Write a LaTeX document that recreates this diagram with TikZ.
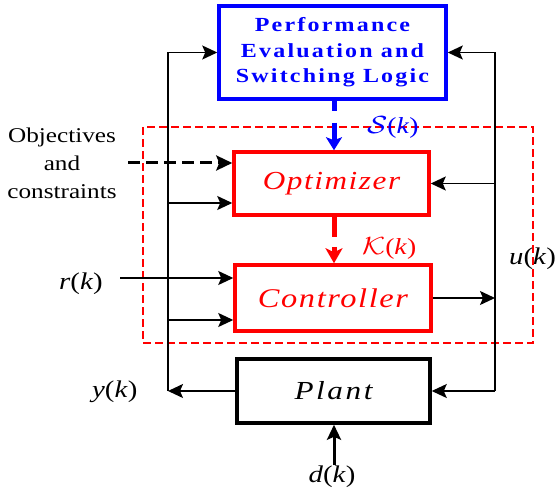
\documentclass[tikz,border=0pt]{standalone}
\usepackage{graphicx}
\usepackage{fontspec}
\setmainfont{Liberation Serif}[FakeStretch=1.2]
\newfontfamily\pesfont{Liberation Serif}[FakeStretch=1.2,LetterSpace=11]
\newfontfamily\boxfont{Liberation Serif}[FakeStretch=1.2,LetterSpace=6]
\newfontfamily\plantfont{Liberation Serif}[FakeStretch=1.2,LetterSpace=10]
\usetikzlibrary{arrows.meta}
\tikzset{
  blk/.style={draw,line width=3.5bp,inner sep=0pt},
  arr/.style={line width=1.6bp,-{Stealth[length=15bp,width=14bp,inset=3bp]}},
  lbl/.style={inner sep=0pt,font=\fontsize{24bp}{28bp}\selectfont},
}
\begin{document}
\begin{tikzpicture}[x=1bp,y=-1bp]
\useasboundingbox (0,0) rectangle (556,490);

% red dashed region
\draw[red,line width=1.8bp,dash pattern=on 8bp off 4bp] (143,127) rectangle (533,343);

% boxes
\node[blk,draw=blue,minimum width=227bp,minimum height=93bp,
      font=\pesfont\bfseries\fontsize{20bp}{25.5bp}\selectfont,text=blue,align=center]
      (pesl) at (332.5,52.5) {Performance\\Evaluation and\\Switching Logic};
\node[blk,draw=red,minimum width=195bp,minimum height=63bp,
      font=\boxfont\itshape\fontsize{26bp}{30bp}\selectfont,text=red]
      (opt) at (331.5,183.5) {Optimizer};
\node[blk,draw=red,minimum width=196bp,minimum height=66bp,
      font=\boxfont\itshape\fontsize{27bp}{30bp}\selectfont,text=red]
      (ctrl) at (333,298) {Controller};
\node[blk,draw=black,minimum width=193bp,minimum height=64bp,
      font=\plantfont\itshape\fontsize{26bp}{30bp}\selectfont]
      (plant) at (333.5,391) {Plant};

% coordinates
\coordinate (lt) at (168,52.5);
\coordinate (lb) at (168,391);
\coordinate (lo) at (168,203);
\coordinate (lc) at (168,320);
\coordinate (rt) at (495,52.5);
\coordinate (rb) at (495,391);
\coordinate (ro) at (495,183.5);
\coordinate (rs) at (120,278);
\coordinate (os) at (128,163);
\coordinate (ds) at (334,465);

% left feedback line
\draw[arr] (plant.west) -- (lb);
\draw[arr] (lb) -- (lt) -- (pesl.west);
\draw[arr] (lo) -- (lo -| opt.west);
\draw[arr] (lc) -- (lc -| ctrl.west);
\draw[arr] (rs) -- (rs -| ctrl.west);
\draw[line width=3bp,dash pattern=on 12bp off 6bp,-{Stealth[length=16bp,width=15bp,inset=3bp]}] (os) -- (os -| opt.west);

% right line
\draw[arr] (rb) -- (rt) -- (pesl.east);
\draw[arr] (ro) -- (opt.east);
\draw[arr] (ctrl.east) -- (ctrl.east -| rt);
\draw[arr] (rb) -- (plant.east);

% disturbance
\draw[line width=3bp,-{Stealth[length=15bp,width=14bp,inset=3bp]}] (ds) -- (ds |- plant.south);

% switching and gains
\draw[blue,line width=5bp,dash pattern=on 10bp off 12bp on 30bp,-{Stealth[length=13bp,width=16bp,inset=3bp]}]
  ([xshift=1.5bp]pesl.south) -- ([xshift=1.5bp]pesl.south |- opt.north);
\draw[red,line width=5bp,dash pattern=on 20bp off 10bp on 30bp,-{Stealth[length=15bp,width=17bp,inset=4bp]}]
  ([xshift=2.5bp]opt.south) -- ([xshift=2.5bp]opt.south |- ctrl.north);

% labels
\node[inner sep=0pt,align=center,font=\fontsize{21bp}{28bp}\selectfont] (obj) at (62,163) {Objectives\\and\\constraints};
\node[lbl,anchor=base east] (rl) at (103,289) {\textit{r}(\textit{k})};
\node[lbl,anchor=base west] (yl) at (92,397) {\textit{y}(\textit{k})};
\node[lbl,anchor=base west] (ul) at (509,264) {\textit{u}(\textit{k})};
\node[lbl,anchor=base] (dl) at (332,482) {\textit{d}(\textit{k})};
\node[lbl,anchor=base west,text=blue,font=\fontsize{23bp}{28bp}\selectfont] (sl) at (367,134) {\scalebox{1.2}[1]{$\mathcal{S}$}(\textit{k})};
\node[lbl,anchor=base west,text=red,font=\fontsize{23bp}{28bp}\selectfont] (kl) at (362,254) {\scalebox{1.2}[1]{$\mathcal{K}$}(\textit{k})};
\end{tikzpicture}
\end{document}
